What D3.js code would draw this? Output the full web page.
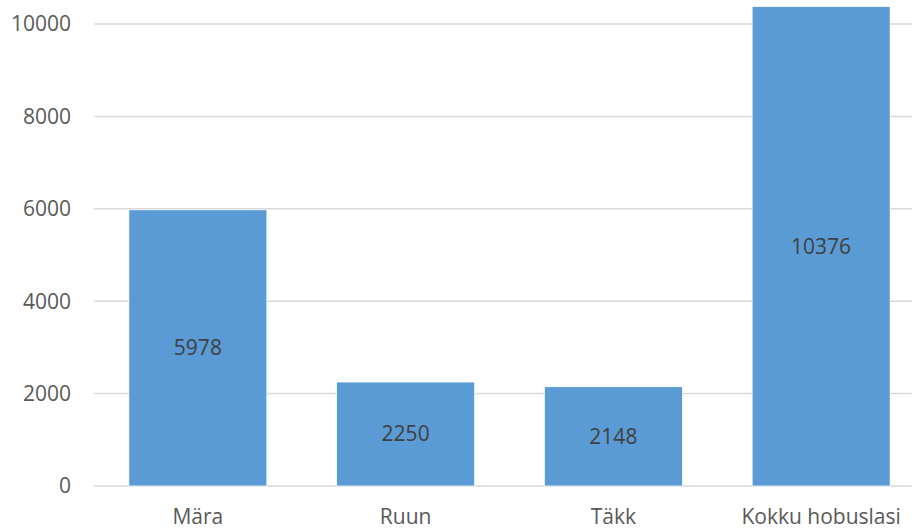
<!DOCTYPE html>
<html>
<head>
<meta charset="utf-8">
<script src="https://cdn.jsdelivr.net/npm/d3@7"></script>
<style>
  body { margin: 0; background: #fff; }
  text { font-family: "Open Sans", Lato, sans-serif; }
</style>
</head>
<body>
<div id="chart"></div>
<script>
// Chart data
var categories = ["Mära", "Ruun", "Täkk", "Kokku hobuslasi"];
var values = [5978, 2250, 2148, 10376];
var yTicks = [0, 2000, 4000, 6000, 8000, 10000];

var width = 912, height = 530;
var fontSize = 21;

var svg = d3.select("#chart").append("svg")
    .attr("width", width)
    .attr("height", height);

var x = d3.scaleBand()
    .domain(categories)
    .range([94, 925])
    .paddingInner(0.336)
    .paddingOuter(0.168);

var y = d3.scaleLinear()
    .domain([0, 10000])
    .range([486, 24]);

// gridlines
svg.selectAll(".grid")
    .data(yTicks)
    .enter().append("line")
    .attr("class", "grid")
    .attr("x1", 94)
    .attr("x2", width)
    .attr("y1", function (d) { return y(d); })
    .attr("y2", function (d) { return y(d); })
    .attr("stroke", "#d9d9d9")
    .attr("stroke-width", 1.5);

// y tick labels
svg.selectAll(".ylabel")
    .data(yTicks)
    .enter().append("text")
    .attr("class", "ylabel")
    .attr("x", 71)
    .attr("y", function (d) { return y(d); })
    .attr("dy", ".35em")
    .attr("text-anchor", "end")
    .attr("font-size", fontSize)
    .attr("fill", "#595959")
    .text(function (d) { return d; });

// bars
svg.selectAll(".bar")
    .data(values)
    .enter().append("rect")
    .attr("class", "bar")
    .attr("x", function (d, i) { return x(categories[i]); })
    .attr("width", x.bandwidth())
    .attr("y", function (d) { return y(d); })
    .attr("height", function (d) { return y(0) - y(d); })
    .attr("fill", "#5b9bd5")
    .attr("stroke", "#fff")
    .attr("stroke-width", 0.7);

// value labels
svg.selectAll(".vlabel")
    .data(values)
    .enter().append("text")
    .attr("class", "vlabel")
    .attr("x", function (d, i) { return x(categories[i]) + x.bandwidth() / 2; })
    .attr("y", function (d) { return (y(d) + y(0)) / 2; })
    .attr("dy", ".35em")
    .attr("text-anchor", "middle")
    .attr("font-size", fontSize)
    .attr("fill", "#404040")
    .text(function (d) { return d; });

// category labels
svg.selectAll(".xlabel")
    .data(categories)
    .enter().append("text")
    .attr("class", "xlabel")
    .attr("x", function (d) { return x(d) + x.bandwidth() / 2; })
    .attr("y", 524)
    .attr("text-anchor", "middle")
    .attr("font-size", fontSize)
    .attr("fill", "#595959")
    .text(function (d) { return d; });
</script>
</body>
</html>
